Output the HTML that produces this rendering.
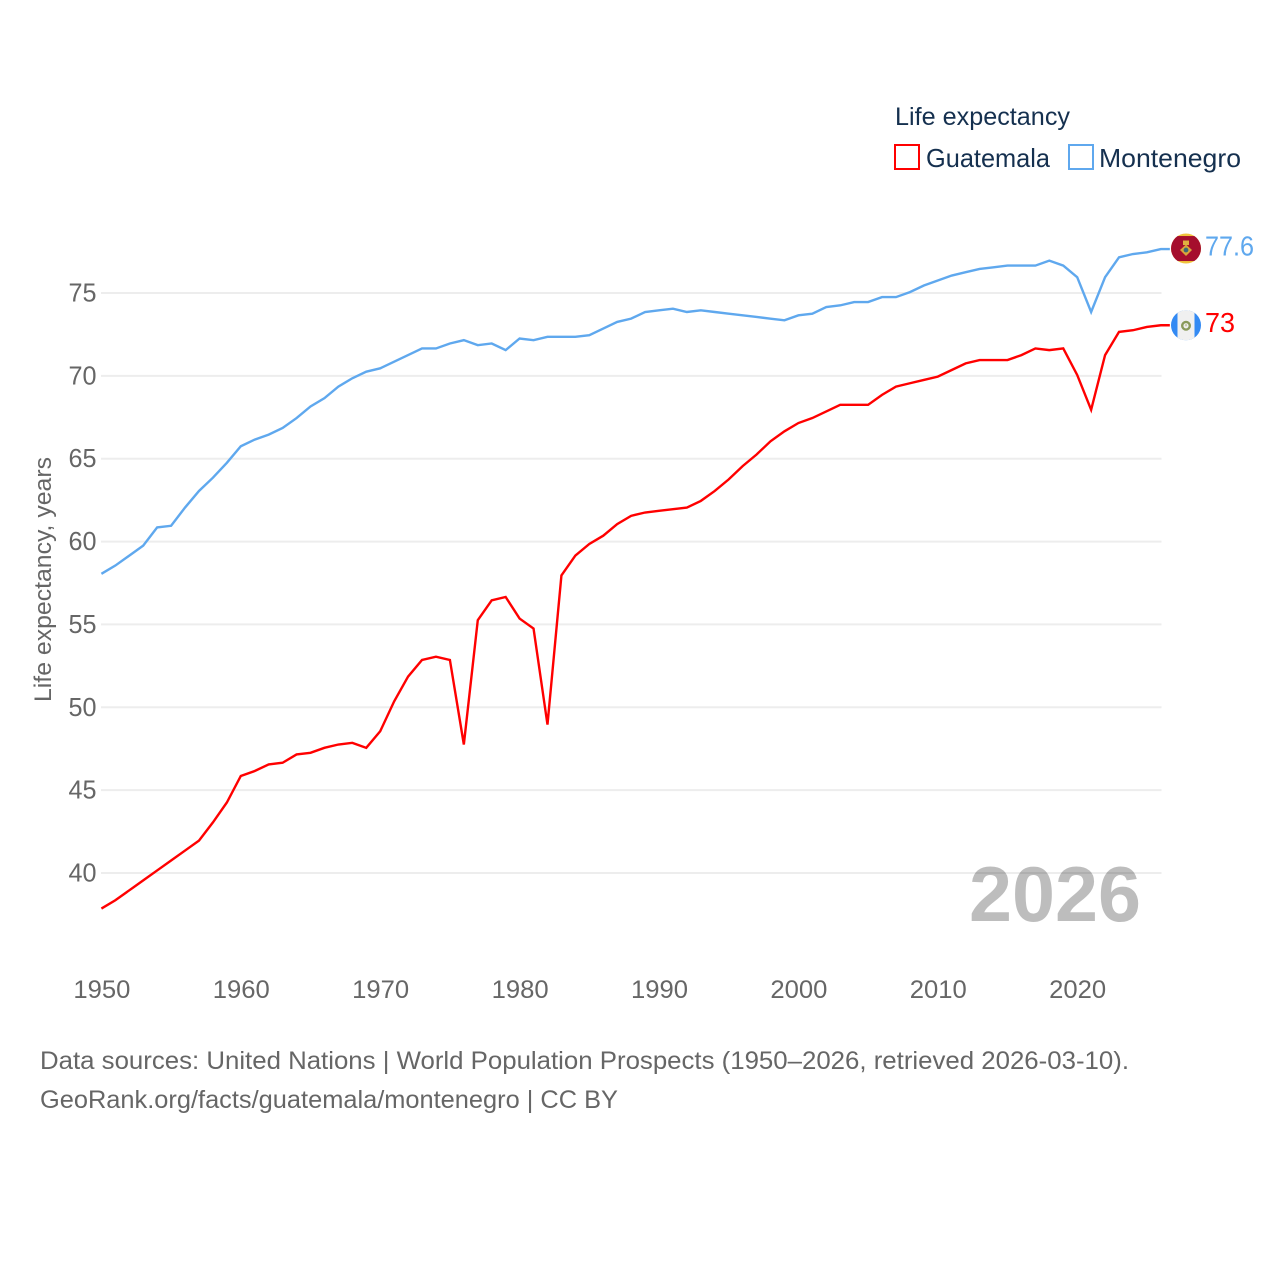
<!DOCTYPE html>
<html lang="en">
<head>
<meta charset="utf-8">
<title>Life expectancy: Guatemala and Montenegro</title>
<style>
html,body{margin:0;padding:0;background:#fff}
svg{display:block}
text{font-family:"Liberation Sans",sans-serif}
</style>
</head>
<body>
<svg id="chart" xmlns="http://www.w3.org/2000/svg" width="1280" height="1280" viewBox="0 0 1280 1280">
  <rect x="0" y="0" width="1280" height="1280" fill="#ffffff"/>
  <defs>
    <clipPath id="flag-clip"><circle cx="0" cy="0" r="15"/></clipPath>
  </defs>
  <g id="grid"></g>
  <g id="y-axis"></g>
  <g id="x-axis"></g>
  <text transform="translate(51,702) rotate(-90)" font-size="24" fill="#666666" textLength="245" lengthAdjust="spacingAndGlyphs">Life expectancy, years</text>
  <text x="969" y="921" font-size="78" font-weight="700" fill="#000000" fill-opacity="0.26" textLength="172" lengthAdjust="spacingAndGlyphs">2026</text>
  <g id="series"></g>

  <g id="flag-montenegro">
    <g clip-path="url(#flag-clip)">
      <rect x="-15" y="-15" width="30" height="30" fill="#f0c33c"/>
      <rect x="-15" y="-12.5" width="30" height="25" fill="#a50e2d"/>
      <path d="M0 -4 L6 1.5 L0 7.5 L-6 1.5 Z" fill="#d8a63a"/>
      <rect x="-3" y="-8" width="6" height="4.5" fill="#e0b040"/>
      <circle cx="0" cy="1.5" r="2.4" fill="#3a6a78"/>
    </g>
  </g>
  <g id="flag-guatemala">
    <g clip-path="url(#flag-clip)">
      <rect x="-15" y="-15" width="30" height="30" fill="#338af3"/>
      <rect x="-8.5" y="-15" width="17" height="30" fill="#f0f0f0"/>
      <circle cx="0" cy="0.5" r="3.8" fill="none" stroke="#8a9a5b" stroke-width="2.4"/>
      <circle cx="0" cy="0" r="1.2" fill="#c9c9a8"/>
    </g>
  </g>

  <g>
    <text x="895" y="125" font-size="25" fill="#15304f" textLength="175" lengthAdjust="spacingAndGlyphs">Life expectancy</text>
    <g>
      <rect x="895" y="145" width="24" height="24" fill="#ffffff" stroke="#ff0000" stroke-width="2"/>
      <text x="926" y="167" font-size="26" fill="#15304f" textLength="124" lengthAdjust="spacingAndGlyphs">Guatemala</text>
    </g>
    <g>
      <rect x="1069" y="145" width="24" height="24" fill="#ffffff" stroke="#5fa8ee" stroke-width="2"/>
      <text x="1099" y="167" font-size="26" fill="#15304f" textLength="142" lengthAdjust="spacingAndGlyphs">Montenegro</text>
    </g>
  </g>

  <text x="40" y="1069" font-size="25" fill="#666666" textLength="1089" lengthAdjust="spacingAndGlyphs">Data sources: United Nations | World Population Prospects (1950–2026, retrieved 2026-03-10).</text>
  <text x="40" y="1108" font-size="25" fill="#666666" textLength="578" lengthAdjust="spacingAndGlyphs">GeoRank.org/facts/guatemala/montenegro | CC BY</text>
</svg>

<script>
var years = [1950,1951,1952,1953,1954,1955,1956,1957,1958,1959,1960,1961,1962,1963,1964,1965,1966,1967,1968,1969,1970,1971,1972,1973,1974,1975,1976,1977,1978,1979,1980,1981,1982,1983,1984,1985,1986,1987,1988,1989,1990,1991,1992,1993,1994,1995,1996,1997,1998,1999,2000,2001,2002,2003,2004,2005,2006,2007,2008,2009,2010,2011,2012,2013,2014,2015,2016,2017,2018,2019,2020,2021,2022,2023,2024,2025,2026];
var guatemala = [37.8,38.3,38.9,39.5,40.1,40.7,41.3,41.9,43.0,44.2,45.8,46.1,46.5,46.6,47.1,47.2,47.5,47.7,47.8,47.5,48.5,50.3,51.8,52.8,53.0,52.8,47.7,55.2,56.4,56.6,55.3,54.7,48.9,57.9,59.1,59.8,60.3,61.0,61.5,61.7,61.8,61.9,62.0,62.4,63.0,63.7,64.5,65.2,66.0,66.6,67.1,67.4,67.8,68.2,68.2,68.2,68.8,69.3,69.5,69.7,69.9,70.3,70.7,70.9,70.9,70.9,71.2,71.6,71.5,71.6,70.0,67.9,71.2,72.6,72.7,72.9,73.0];
var montenegro = [58.0,58.5,59.1,59.7,60.8,60.9,62.0,63.0,63.8,64.7,65.7,66.1,66.4,66.8,67.4,68.1,68.6,69.3,69.8,70.2,70.4,70.8,71.2,71.6,71.6,71.9,72.1,71.8,71.9,71.5,72.2,72.1,72.3,72.3,72.3,72.4,72.8,73.2,73.4,73.8,73.9,74.0,73.8,73.9,73.8,73.7,73.6,73.5,73.4,73.3,73.6,73.7,74.1,74.2,74.4,74.4,74.7,74.7,75.0,75.4,75.7,76.0,76.2,76.4,76.5,76.6,76.6,76.6,76.9,76.6,75.9,73.8,75.9,77.1,77.3,77.4,77.6];
var yTicks = [40,45,50,55,60,65,70,75];
var xTicks = [1950,1960,1970,1980,1990,2000,2010,2020];
var guatemalaLabel = "73";
var montenegroLabel = "77.6";

var SVG_NS = "http://www.w3.org/2000/svg";
function xScale(year) { return 101.4 + (year - 1950) * 13.94; }
function yScale(value) { return 873 - (value - 40) * 16.571; }
function seriesY(value) { return yScale(value) - 0.9; }
function make(tag, attrs, parent) {
  var el = document.createElementNS(SVG_NS, tag);
  for (var k in attrs) { el.setAttribute(k, attrs[k]); }
  parent.appendChild(el);
  return el;
}

var gridGroup = document.getElementById("grid");
var yAxisGroup = document.getElementById("y-axis");
yTicks.forEach(function (t) {
  var line = make("line", {x1: 101, x2: 1161.5, y1: yScale(t), y2: yScale(t), stroke: "#ededed", "stroke-width": 2}, gridGroup);
  
  
  var label = make("text", {x: 96.5, y: yScale(t) + 8.5, "text-anchor": "end", "font-size": 26, fill: "#666666", textLength: 28, lengthAdjust: "spacingAndGlyphs"}, yAxisGroup);
  label.textContent = String(t);
  
  
});

var xAxisGroup = document.getElementById("x-axis");
xTicks.forEach(function (t) {
  var label = make("text", {x: xScale(t) + 0.5, y: 998, "text-anchor": "middle", "font-size": 25, fill: "#666666", textLength: 57, lengthAdjust: "spacingAndGlyphs"}, xAxisGroup);
  label.textContent = String(t);
  
  
});

function buildPath(values) {
  var d = "";
  for (var i = 0; i < values.length; i++) {
    d += (i ? "L" : "M") + xScale(years[i]).toFixed(2) + " " + seriesY(values[i]).toFixed(2);
  }
  d += "L" + (xScale(years[years.length - 1]) + 9).toFixed(2) + " " + seriesY(values[values.length - 1]).toFixed(2);
  return d;
}

var seriesGroup = document.getElementById("series");
var lineGuatemala = make("path", {d: buildPath(guatemala), fill: "none", stroke: "#ff0000", "stroke-width": 2.4, "stroke-linejoin": "miter"}, seriesGroup);


var lineMontenegro = make("path", {d: buildPath(montenegro), fill: "none", stroke: "#5fa8ee", "stroke-width": 2.4, "stroke-linejoin": "miter"}, seriesGroup);



var lastGuatemalaY = seriesY(guatemala[guatemala.length - 1]);
var lastMontenegroY = seriesY(montenegro[montenegro.length - 1]);
document.getElementById("flag-guatemala").setAttribute("transform", "translate(1186," + lastGuatemalaY + ")");
document.getElementById("flag-montenegro").setAttribute("transform", "translate(1186," + (lastMontenegroY - 0.5) + ")");

var endGuatemala = make("text", {x: 1205, y: lastGuatemalaY + 6.5, "font-size": 28, fill: "#ff0000", textLength: 30, lengthAdjust: "spacingAndGlyphs"}, seriesGroup);
endGuatemala.textContent = guatemalaLabel;


var endMontenegro = make("text", {x: 1205, y: lastMontenegroY + 6.5, "font-size": 28, fill: "#5fa8ee", textLength: 49, lengthAdjust: "spacingAndGlyphs"}, seriesGroup);
endMontenegro.textContent = montenegroLabel;


</script>
</body>
</html>
